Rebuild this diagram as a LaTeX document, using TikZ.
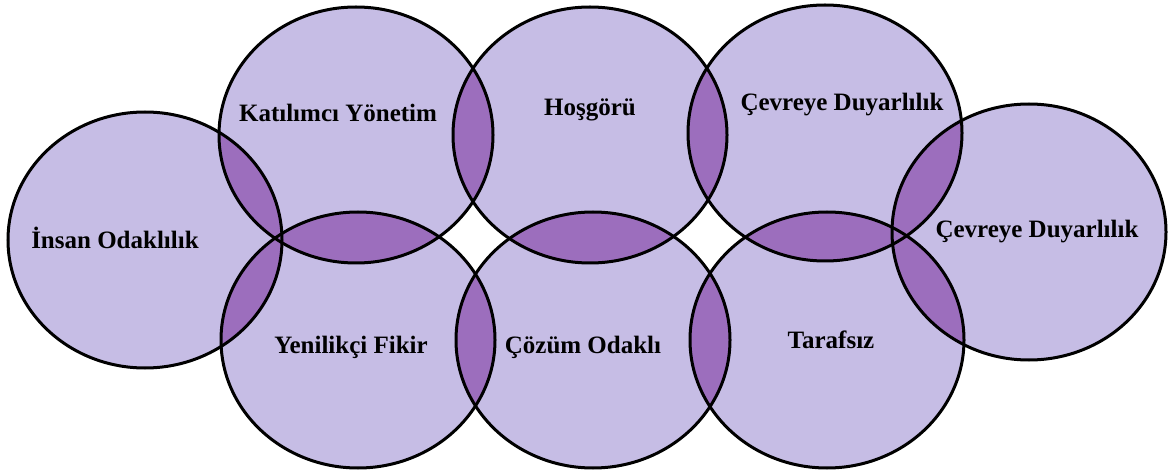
\documentclass[tikz,border=0pt]{standalone}
\usepackage{fontspec}
\setmainfont{Liberation Serif}
\definecolor{lightp}{HTML}{C6BDE5}
\definecolor{darkp}{HTML}{9C6EBD}
\newcommand\ovalpath[1]{(#1) ellipse [x radius=137pt, y radius=128pt]}
\begin{document}
\begin{tikzpicture}[x=1pt,y=-1pt,
  lbl/.style={font=\bfseries\fontsize{25}{30}\selectfont, text=black, inner sep=0pt},
  outline/.style={draw=black, line width=3pt}]
\useasboundingbox (0,0) rectangle (1168,473);
\coordinate (cL) at (145,240);
\coordinate (cK) at (356,135);
\coordinate (cH) at (590,135);
\coordinate (cC) at (825,133);
\coordinate (cY) at (358,340);
\coordinate (cZ) at (593,340);
\coordinate (cT) at (827,340);
\coordinate (cR) at (1029,232);
% base fills
\foreach \c in {cL,cK,cH,cC,cY,cZ,cT,cR}{\fill[lightp] \ovalpath{\c};}
% overlaps
\foreach \a/\b in {cL/cK,cL/cY,cK/cH,cK/cY,cH/cC,cH/cZ,cC/cT,cC/cR,cY/cZ,cZ/cT,cT/cR}{
  \begin{scope}
    \clip \ovalpath{\a};
    \fill[darkp] \ovalpath{\b};
  \end{scope}
}
% outlines
\foreach \c in {cL,cK,cH,cC,cY,cZ,cT,cR}{\draw[outline] \ovalpath{\c};}
% labels
\node[lbl] (tL) at (115,238) {İnsan Odaklılık};
\node[lbl] (tK) at (338,113) {Katılımcı Yönetim};
\node[lbl] (tH) at (590,110) {Hoşgörü};
\node[lbl] (tC) at (842,105) {Çevreye Duyarlılık};
\node[lbl] (tR) at (1037,232) {Çevreye Duyarlılık};
\node[lbl] (tY) at (351,347) {Yenilikçi Fikir};
\node[lbl] (tZ) at (583,347) {Çözüm Odaklı};
\node[lbl] (tT) at (831,340) {Tarafsız};
\end{tikzpicture}
\end{document}
